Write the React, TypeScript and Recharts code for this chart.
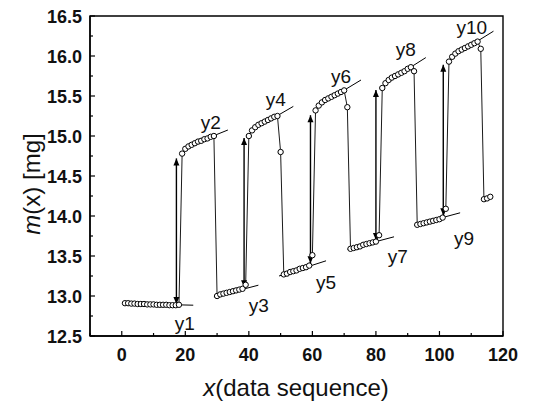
import React from 'react';
import { ScatterChart, Scatter, XAxis, YAxis, ReferenceArea } from 'recharts';

// mass readings m(x) in mg, data sequence 1..116
const massSeries = [
  // y1 (x 1-18)
  12.91, 12.91, 12.905, 12.905, 12.9, 12.9, 12.9, 12.895, 12.895, 12.895, 12.89, 12.89, 12.89, 12.89, 12.885, 12.885, 12.885, 12.89,
  // y2 (x 19-29)
  14.78, 14.84, 14.87, 14.89, 14.91, 14.93, 14.94, 14.96, 14.97, 14.99, 15.0,
  // y3 (x 30-39)
  13.0, 13.02, 13.03, 13.04, 13.05, 13.06, 13.07, 13.08, 13.09, 13.14,
  // y4 (x 40-50)
  15.0, 15.07, 15.11, 15.14, 15.16, 15.18, 15.2, 15.22, 15.24, 15.25, 14.8,
  // y5 (x 51-60)
  13.27, 13.28, 13.3, 13.31, 13.32, 13.34, 13.35, 13.36, 13.38, 13.51,
  // y6 (x 61-71)
  15.32, 15.38, 15.42, 15.45, 15.47, 15.49, 15.51, 15.53, 15.55, 15.57, 15.36,
  // y7 (x 72-81)
  13.59, 13.6, 13.61, 13.62, 13.64, 13.65, 13.66, 13.67, 13.68, 13.76,
  // y8 (x 82-92)
  15.6, 15.66, 15.7, 15.73, 15.75, 15.77, 15.79, 15.81, 15.84, 15.86, 15.81,
  // y9 (x 93-102)
  13.89, 13.9, 13.91, 13.92, 13.93, 13.94, 13.95, 13.96, 13.98, 14.09,
  // y10 (x 103-113)
  15.93, 15.99, 16.03, 16.06, 16.08, 16.1, 16.12, 16.14, 16.16, 16.18, 16.09,
  // tail (x 114-116)
  14.21, 14.22, 14.24,
];

// fitted lines y1..y10: start/end points
const fitNames = ['y1', 'y2', 'y3', 'y4', 'y5', 'y6', 'y7', 'y8', 'y9', 'y10'];
const fitX1 = [1, 20, 29, 41, 49.5, 62, 71, 83, 92, 104];
const fitY1 = [12.905, 14.86, 12.99, 15.07, 13.25, 15.38, 13.585, 15.66, 13.885, 15.99];
const fitX2 = [22.5, 33.4, 43, 54, 64.3, 75.3, 85.7, 95.7, 106.5, 117];
const fitY2 = [12.885, 15.075, 13.135, 15.37, 13.44, 15.7, 13.74, 15.98, 14.04, 16.31];

// label positions (data coords, baseline)
const labelX = [19.8, 28.0, 43.1, 48.5, 64.3, 69.0, 86.9, 89.4, 107.7, 110.2];
const labelY = [12.575, 15.09, 12.8, 15.375, 13.09, 15.66, 13.41, 16.0, 13.64, 16.275];

// double-headed transition arrows
const arrowX = [17.2, 38.5, 59.4, 80.0, 101.2];
const arrowLow = [12.9, 13.11, 13.41, 13.7, 14.01];
const arrowHigh = [14.72, 14.975, 15.26, 15.575, 15.89];

const xTicks = [-10, 0, 10, 20, 30, 40, 50, 60, 70, 80, 90, 100, 110, 120];
const yTicks = [12.5, 12.75, 13, 13.25, 13.5, 13.75, 14, 14.25, 14.5, 14.75, 15, 15.25, 15.5, 15.75, 16, 16.25, 16.5];

const FONT = '"Liberation Sans", Arial, Helvetica, sans-serif';

const seqData = massSeries.map((m, i) => ({ x: i + 1, y: m }));
const fitData = fitNames.map((n, i) => [
  { x: fitX1[i], y: fitY1[i] },
  { x: fitX2[i], y: fitY2[i] },
]);
const labelData = fitNames.map((n, i) => ({ x: labelX[i], y: labelY[i], name: n }));
const arrowData = arrowX.map((ax, i) => [
  { x: ax, y: arrowLow[i], dir: 'down' },
  { x: ax, y: arrowHigh[i], dir: 'up' },
]);

const YTick = (props: any) => {
  const { x, y, payload } = props;
  const v = payload.value;
  const major = Math.abs(v * 2 - Math.round(v * 2)) < 1e-6;
  return (
    <g>
      <line x1={x} x2={x + (major ? 5 : 3)} y1={y} y2={y} stroke="#000" strokeWidth={1.2} />
      {major && (
        <text x={x - 8} y={y + 6.5} textAnchor="end" fontSize={18} fontWeight="bold" fontFamily={FONT} fill="#111">
          {v.toFixed(1)}
        </text>
      )}
    </g>
  );
};

const XTick = (props: any) => {
  const { x, y, payload } = props;
  const v = payload.value;
  const major = v % 20 === 0;
  return (
    <g>
      <line x1={x} x2={x} y1={y} y2={y - (major ? 5 : 3)} stroke="#000" strokeWidth={1.2} />
      {major && (
        <text x={x} y={y + 25} textAnchor="middle" fontSize={18} fontWeight="bold" fontFamily={FONT} fill="#111">
          {v}
        </text>
      )}
    </g>
  );
};

const YTitle = () => {
  const cx = 31;
  const cy = 184;
  return (
    <text
      x={cx}
      y={cy}
      transform={`rotate(-90 ${cx} ${cy})`}
      textAnchor="middle"
      dominantBaseline="central"
      fontSize={24}
      fontFamily={FONT}
      fill="#111"
    >
      <tspan fontStyle="italic">m</tspan>
      <tspan>(x) [mg]</tspan>
    </text>
  );
};

const XTitle = () => {
  return (
    <text x={296} y={396} textAnchor="middle" fontSize={24} fontFamily={FONT} fill="#111">
      <tspan fontStyle="italic">x</tspan>
      <tspan>(data sequence)</tspan>
    </text>
  );
};

const OpenCircle = (p: any) => (
  <circle cx={p.cx} cy={p.cy} r={2.7} fill="#fff" stroke="#000" strokeWidth={1} />
);

const NoShape = () => <g />;

const ArrowHead = (p: any) => {
  const { cx, cy, payload } = p;
  const h = 7;
  const w = 3;
  if (payload.dir === 'up') {
    return <path d={`M${cx},${cy} L${cx - w},${cy + h} L${cx + w},${cy + h} Z`} fill="#000" />;
  }
  return <path d={`M${cx},${cy} L${cx - w},${cy - h} L${cx + w},${cy - h} Z`} fill="#000" />;
};

const LabelShape = (p: any) => (
  <text x={p.cx} y={p.cy} textAnchor="middle" fontSize={19} fontFamily={FONT} fill="#111">
    {p.payload.name}
  </text>
);

export default function App() {
  return (
    <div style={{ position: 'absolute', left: 0, top: 0, width: 547, height: 405, background: '#fff' }}>
      <ScatterChart width={547} height={405} margin={{ top: 16, right: 44, bottom: 0, left: 0 }}>
        <XAxis
          type="number"
          dataKey="x"
          domain={[-10, 120]}
          ticks={xTicks}
          interval={0}
          allowDataOverflow
          height={69}
          tickSize={0}
          tickMargin={0}
          tickLine={false}
          axisLine={{ stroke: '#000', strokeWidth: 1.4 }}
          tick={<XTick />}
          label={{ content: <XTitle /> }}
        />
        <YAxis
          type="number"
          dataKey="y"
          domain={[12.5, 16.5]}
          ticks={yTicks}
          interval={0}
          allowDataOverflow
          width={90}
          tickSize={0}
          tickMargin={0}
          tickLine={false}
          axisLine={{ stroke: '#000', strokeWidth: 1.4 }}
          tick={<YTick />}
          label={{ content: <YTitle /> }}
        />
        <ReferenceArea x1={-10} x2={120} y1={12.5} y2={16.5} fill="none" stroke="#000" strokeWidth={1.4} ifOverflow="visible" />
        {fitData.map((d, i) => (
          <Scatter
            key={'fit' + i}
            data={d}
            line={{ stroke: '#000', strokeWidth: 1 }}
            shape={<NoShape />}
            isAnimationActive={false}
          />
        ))}
        {arrowData.map((d, i) => (
          <Scatter
            key={'arr' + i}
            data={d}
            line={{ stroke: '#000', strokeWidth: 1.4 }}
            shape={<ArrowHead />}
            isAnimationActive={false}
          />
        ))}
        <Scatter
          data={seqData}
          line={{ stroke: '#000', strokeWidth: 0.9 }}
          shape={<OpenCircle />}
          isAnimationActive={false}
        />
        <Scatter data={labelData} shape={<LabelShape />} isAnimationActive={false} />
      </ScatterChart>
    </div>
  );
}
